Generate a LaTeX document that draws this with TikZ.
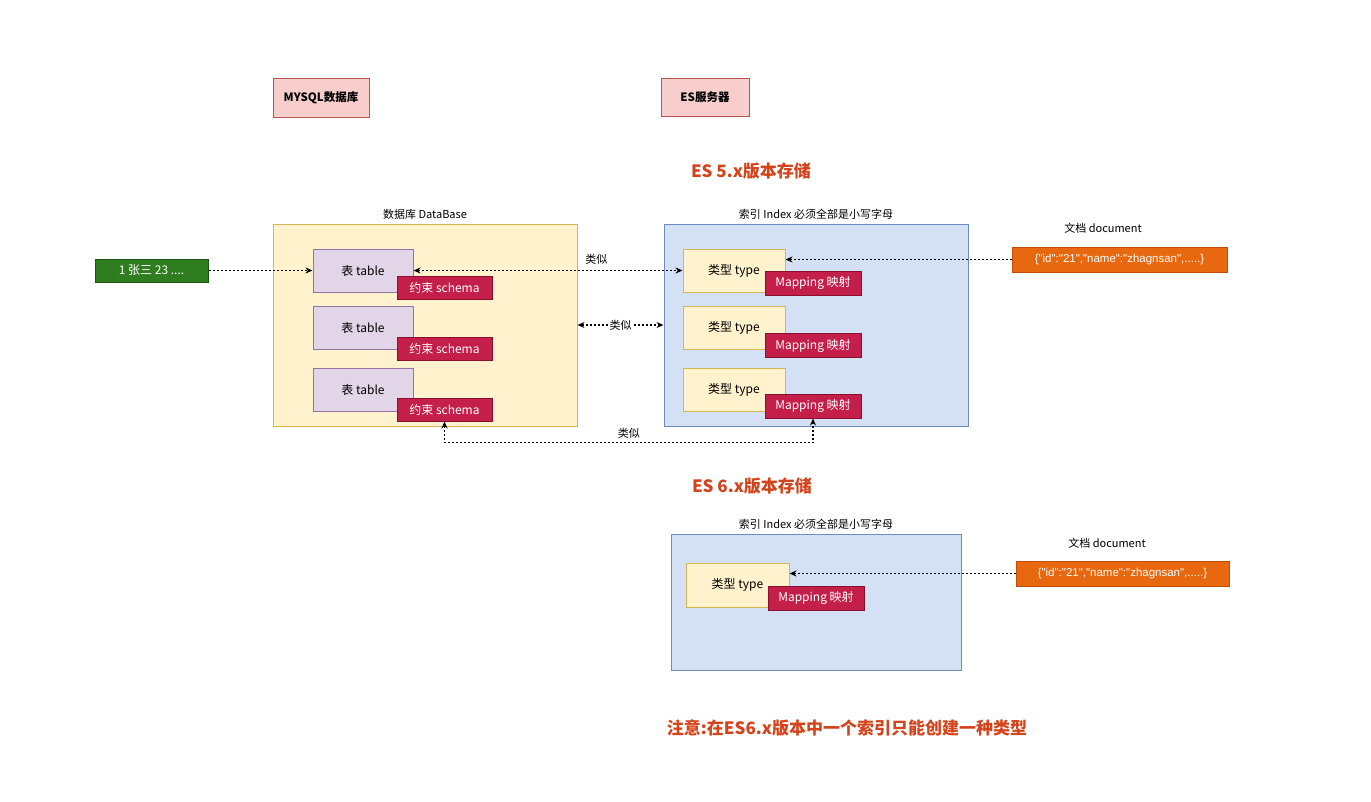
\documentclass[tikz,border=0pt]{standalone}
\usepackage{fontspec}
\setmainfont{Noto Sans CJK SC}
\newfontfamily\latinfont{Liberation Sans}
\usetikzlibrary{arrows.meta}

\definecolor{pinkfill}{HTML}{F8CECC}
\definecolor{pinkline}{HTML}{B85450}
\definecolor{yelfill}{HTML}{FFF2CC}
\definecolor{yelline}{HTML}{D6B656}
\definecolor{purfill}{HTML}{E1D5E7}
\definecolor{purline}{HTML}{9673A6}
\definecolor{bluefill}{HTML}{D4E1F5}
\definecolor{blueline}{HTML}{6C8EBF}
\definecolor{crimfill}{HTML}{C41E4A}
\definecolor{crimline}{HTML}{8A0F2E}
\definecolor{greenfill}{HTML}{2E7D1E}
\definecolor{greenline}{HTML}{1E5512}
\definecolor{orangefill}{HTML}{E8680F}
\definecolor{orangeline}{HTML}{C04F05}
\definecolor{titlered}{HTML}{D4441C}

\begin{document}
\begin{tikzpicture}[x=1pt, y=-1pt,
	box/.style={rectangle, draw, line width=1pt, inner sep=0pt, font=\fontsize{12}{14}\selectfont},
	server/.style={box, fill=pinkfill, draw=pinkline, font=\fontsize{11.5}{13}\selectfont\bfseries},
	container/.style={box, fill=yelfill, draw=yelline},
	tablebox/.style={box, fill=purfill, draw=purline, minimum width=100pt, minimum height=43pt},
	typebox/.style={box, fill=yelfill, draw=yelline, minimum width=102pt, minimum height=43pt},
	tagbox/.style={box, fill=crimfill, draw=crimline, text=white, minimum width=95pt, minimum height=23pt},
	docbox/.style={box, fill=orangefill, draw=orangeline, text=white, minimum height=25pt, font=\fontsize{11.5}{13}\latinfont},
	caption/.style={font=\fontsize{11}{13}\selectfont},
	title/.style={text=titlered, font=\fontsize{17}{20}\selectfont\bfseries},
	simarrow/.style={line width=1.3pt, dash pattern=on 2pt off 2pt, {Stealth[length=7pt,width=6pt]}-{Stealth[length=7pt,width=6pt]}},
	feedarrow/.style={line width=1.3pt, dash pattern=on 2pt off 2pt, -{Stealth[length=7pt,width=6pt]}}]

	\useasboundingbox (0,0) rectangle (1371,801);

	% Servers
	\node[server, minimum width=96pt, minimum height=39pt] (mysql) at (321,97.5) {MYSQL数据库};
	\node[server, minimum width=88pt, minimum height=38pt] (es) at (705,97) {ES服务器};

	% ES 5.x
	\node[title] (es5) at (751,171) {ES 5.x版本存储};

	% Database side
	\node[caption] (dblabel) at (425,214) {数据库 DataBase};
	\node[container, minimum width=304pt, minimum height=202pt] (db) at (425,325) {};
	\node[tablebox] (table1) at (363,270.5) {表 table};
	\node[tablebox] (table2) at (363,328) {表 table};
	\node[tablebox] (table3) at (363,389.5) {表 table};
	\node[tagbox] (schema1) at (444.5,287.5) {约束 schema};
	\node[tagbox] (schema2) at (444.5,349) {约束 schema};
	\node[tagbox] (schema3) at (444.5,409.5) {约束 schema};
	\node[box, fill=greenfill, draw=greenline, text=white, minimum width=113pt, minimum height=23pt] (row) at (151.5,270.5) {1 张三 23 ....};

	% Index side
	\node[caption] (idxlabel) at (816,214) {索引 Index 必须全部是小写字母};
	\node[box, fill=bluefill, draw=blueline, minimum width=304pt, minimum height=202pt] (idx) at (816,325) {};
	\node[typebox] (type1) at (734,270.5) {类型 type};
	\node[typebox] (type2) at (734,328) {类型 type};
	\node[typebox] (type3) at (734,389.5) {类型 type};
	\node[tagbox, minimum width=96pt, minimum height=24pt] (map1) at (813,283) {Mapping 映射};
	\node[tagbox, minimum width=96pt, minimum height=24pt] (map2) at (813,345.5) {Mapping 映射};
	\node[tagbox, minimum width=96pt, minimum height=24pt] (map3) at (813,406) {Mapping 映射};

	\node[caption] (doclabel) at (1103,228) {文档 document};
	\node[docbox, minimum width=215pt] (doc) at (1119.5,259.5) {\{"id":"21","name":"zhagnsan",.....\}};

	% Arrows
	\draw[feedarrow] (row) -- (table1);
	\draw[feedarrow] (doc.west) -- (doc.west -| type1.east);
	\draw[simarrow] (table1.east) -- (type1.west) node[pos=0.68, above, caption, yshift=2pt] {类似};
	\draw[simarrow] (db.east) -- (idx.west) node[midway, fill=white, caption, inner sep=1pt] {类似};
	\draw[simarrow] (schema3.south) -- ++(0,21) -| (map3.south) node[pos=0.25, above, caption] {类似};

	% ES 6.x
	\node[title] (es6) at (752,486) {ES 6.x版本存储};
	\node[caption] (idx2label) at (816,524) {索引 Index 必须全部是小写字母};
	\node[box, fill=bluefill, draw=blueline, minimum width=290pt, minimum height=136pt] (idx2) at (816,602) {};
	\node[typebox, minimum width=103pt, minimum height=44pt] (type4) at (737.5,585) {类型 type};
	\node[tagbox, minimum width=96pt, minimum height=24pt] (map4) at (816,598) {Mapping 映射};
	\node[caption] (doc2label) at (1107,543) {文档 document};
	\node[docbox, minimum width=213pt] (doc2) at (1122.5,573.5) {\{"id":"21","name":"zhagnsan",.....\}};
	\draw[feedarrow] (doc2.west) -- (doc2.west -| type4.east);

	% Note
	\node[title] (note) at (847,728) {注意:在ES6.x版本中一个索引只能创建一种类型};

\end{tikzpicture}
\end{document}
